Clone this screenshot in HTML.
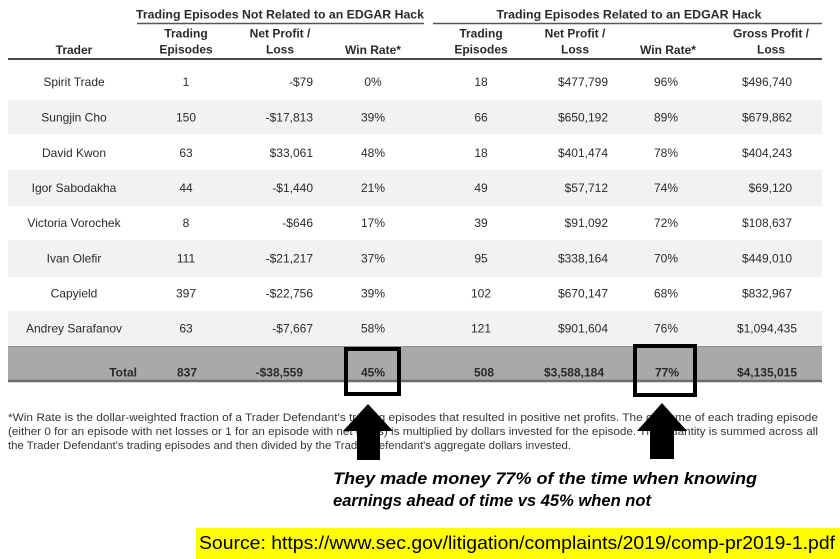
<!DOCTYPE html>
<html><head><meta charset="utf-8"><style>
html,body{margin:0;padding:0;background:#fff;width:840px;height:559px;overflow:hidden}
svg{display:block}
text{font-family:"Liberation Sans",Arial,sans-serif;fill:#2a2a2a;font-size:12px}
.b{font-weight:bold}
.c{text-anchor:middle}
.r{text-anchor:end}
.fn{font-size:11px;fill:#3a3438}
</style></head><body>
<svg width="840" height="559" viewBox="0 0 840 559" xmlns="http://www.w3.org/2000/svg">
<rect width="840" height="559" fill="#fff"/>
<!-- group headers -->
<text class="b c" x="280" y="18.5" textLength="288" lengthAdjust="spacingAndGlyphs">Trading Episodes Not Related to an EDGAR Hack</text>
<text class="b c" x="629" y="18.5" textLength="265" lengthAdjust="spacingAndGlyphs">Trading Episodes Related to an EDGAR Hack</text>
<line x1="137" y1="23.5" x2="424" y2="23.5" stroke="#555" stroke-width="1.5"/>
<line x1="433" y1="23.5" x2="822" y2="23.5" stroke="#555" stroke-width="1.5"/>
<!-- sub headers -->
<text class="b c" x="74" y="54">Trader</text>
<text class="b c" x="186" y="37.5">Trading</text>
<text class="b c" x="186" y="53.5">Episodes</text>
<text class="b c" x="280" y="37.5">Net Profit /</text>
<text class="b c" x="280" y="53.5">Loss</text>
<text class="b c" x="373" y="54">Win Rate*</text>
<text class="b c" x="481" y="37.5">Trading</text>
<text class="b c" x="481" y="53.5">Episodes</text>
<text class="b c" x="575" y="37.5">Net Profit /</text>
<text class="b c" x="575" y="53.5">Loss</text>
<text class="b c" x="668" y="54">Win Rate*</text>
<text class="b c" x="771" y="37.5">Gross Profit /</text>
<text class="b c" x="771" y="53.5">Loss</text>
<line x1="8" y1="59" x2="822" y2="59" stroke="#4a4a4a" stroke-width="2"/>
<!-- shaded bands -->
<rect x="8" y="100" width="814" height="34" fill="#f1f2f3"/>
<rect x="8" y="170" width="814" height="36" fill="#f1f2f3"/>
<rect x="8" y="240" width="814" height="37" fill="#f1f2f3"/>
<rect x="8" y="311" width="814" height="35" fill="#f1f2f3"/>
<!-- rows -->
<g>
<text class="c" x="74" y="86">Spirit Trade</text><text class="c" x="186" y="86">1</text><text class="r" x="313" y="86">-$79</text><text class="c" x="373" y="86">0%</text><text class="c" x="481" y="86">18</text><text class="r" x="608" y="86">$477,799</text><text class="c" x="666" y="86">96%</text><text class="r" x="792" y="86">$496,740</text>
<text class="c" x="74" y="121.5">Sungjin Cho</text><text class="c" x="186" y="121.5">150</text><text class="r" x="313" y="121.5">-$17,813</text><text class="c" x="373" y="121.5">39%</text><text class="c" x="481" y="121.5">66</text><text class="r" x="608" y="121.5">$650,192</text><text class="c" x="666" y="121.5">89%</text><text class="r" x="792" y="121.5">$679,862</text>
<text class="c" x="74" y="157">David Kwon</text><text class="c" x="186" y="157">63</text><text class="r" x="313" y="157">$33,061</text><text class="c" x="373" y="157">48%</text><text class="c" x="481" y="157">18</text><text class="r" x="608" y="157">$401,474</text><text class="c" x="666" y="157">78%</text><text class="r" x="792" y="157">$404,243</text>
<text class="c" x="74" y="192">Igor Sabodakha</text><text class="c" x="186" y="192">44</text><text class="r" x="313" y="192">-$1,440</text><text class="c" x="373" y="192">21%</text><text class="c" x="481" y="192">49</text><text class="r" x="608" y="192">$57,712</text><text class="c" x="666" y="192">74%</text><text class="r" x="792" y="192">$69,120</text>
<text class="c" x="74" y="227">Victoria Vorochek</text><text class="c" x="186" y="227">8</text><text class="r" x="313" y="227">-$646</text><text class="c" x="373" y="227">17%</text><text class="c" x="481" y="227">39</text><text class="r" x="608" y="227">$91,092</text><text class="c" x="666" y="227">72%</text><text class="r" x="792" y="227">$108,637</text>
<text class="c" x="74" y="262.5">Ivan Olefir</text><text class="c" x="186" y="262.5">111</text><text class="r" x="313" y="262.5">-$21,217</text><text class="c" x="373" y="262.5">37%</text><text class="c" x="481" y="262.5">95</text><text class="r" x="608" y="262.5">$338,164</text><text class="c" x="666" y="262.5">70%</text><text class="r" x="792" y="262.5">$449,010</text>
<text class="c" x="74" y="297.5">Capyield</text><text class="c" x="186" y="297.5">397</text><text class="r" x="313" y="297.5">-$22,756</text><text class="c" x="373" y="297.5">39%</text><text class="c" x="481" y="297.5">102</text><text class="r" x="608" y="297.5">$670,147</text><text class="c" x="666" y="297.5">68%</text><text class="r" x="792" y="297.5">$832,967</text>
<text class="c" x="74" y="332.5">Andrey Sarafanov</text><text class="c" x="186" y="332.5">63</text><text class="r" x="313" y="332.5">-$7,667</text><text class="c" x="373" y="332.5">58%</text><text class="c" x="481" y="332.5">121</text><text class="r" x="608" y="332.5">$901,604</text><text class="c" x="666" y="332.5">76%</text><text class="r" x="797" y="332.5">$1,094,435</text>
</g>
<!-- total row -->
<rect x="8" y="346" width="814" height="36" fill="#a9a9a9"/>
<line x1="8" y1="346.5" x2="822" y2="346.5" stroke="#8f8f8f" stroke-width="1"/>
<line x1="8" y1="381" x2="822" y2="381" stroke="#6e6e6e" stroke-width="2.5"/>
<text class="b r" x="137" y="376.5">Total</text>
<text class="b c" x="187" y="376.5">837</text>
<text class="b r" x="303" y="376.5">-$38,559</text>
<text class="b c" x="373" y="376.5">45%</text>
<text class="b c" x="484" y="376.5">508</text>
<text class="b r" x="604" y="376.5">$3,588,184</text>
<text class="b c" x="667" y="376.5">77%</text>
<text class="b r" x="797" y="376.5">$4,135,015</text>
<!-- footnote -->
<text class="fn" x="8" y="421" textLength="810" lengthAdjust="spacingAndGlyphs">*Win Rate is the dollar-weighted fraction of a Trader Defendant's trading episodes that resulted in positive net profits.  The outcome of each trading episode</text>
<text class="fn" x="8" y="435" textLength="810" lengthAdjust="spacingAndGlyphs">(either 0 for an episode with net losses or 1 for an episode with net gains) is multiplied by dollars invested for the episode.  This quantity is summed across all</text>
<text class="fn" x="8" y="449" textLength="563" lengthAdjust="spacingAndGlyphs">the Trader Defendant's trading episodes and then divided by the Trader Defendant's aggregate dollars invested.</text>
<!-- boxes -->
<rect x="346" y="349" width="53" height="45" fill="none" stroke="#000" stroke-width="4"/>
<rect x="635" y="346" width="60" height="49" fill="none" stroke="#000" stroke-width="4"/>
<!-- arrows -->
<polygon points="368,404 393,431 380,431 380,460 357,460 357,431 343,431" fill="#000"/>
<polygon points="662,403 687,431 674,431 674,459 650,459 650,431 637,431" fill="#000"/>
<!-- caption -->
<text x="333" y="484" style="font-size:17px;font-weight:bold;font-style:italic;fill:#000" textLength="424" lengthAdjust="spacingAndGlyphs">They made money 77% of the time when knowing</text>
<text x="333" y="506" style="font-size:17px;font-weight:bold;font-style:italic;fill:#000" textLength="318" lengthAdjust="spacingAndGlyphs">earnings ahead of time vs 45% when not</text>
<!-- source -->
<rect x="196" y="528" width="644" height="31" fill="#ffff00"/>
<text x="199" y="549" style="font-size:18px;fill:#000" textLength="636" lengthAdjust="spacingAndGlyphs">Source: https://www.sec.gov/litigation/complaints/2019/comp-pr2019-1.pdf</text>
</svg>
</body></html>
